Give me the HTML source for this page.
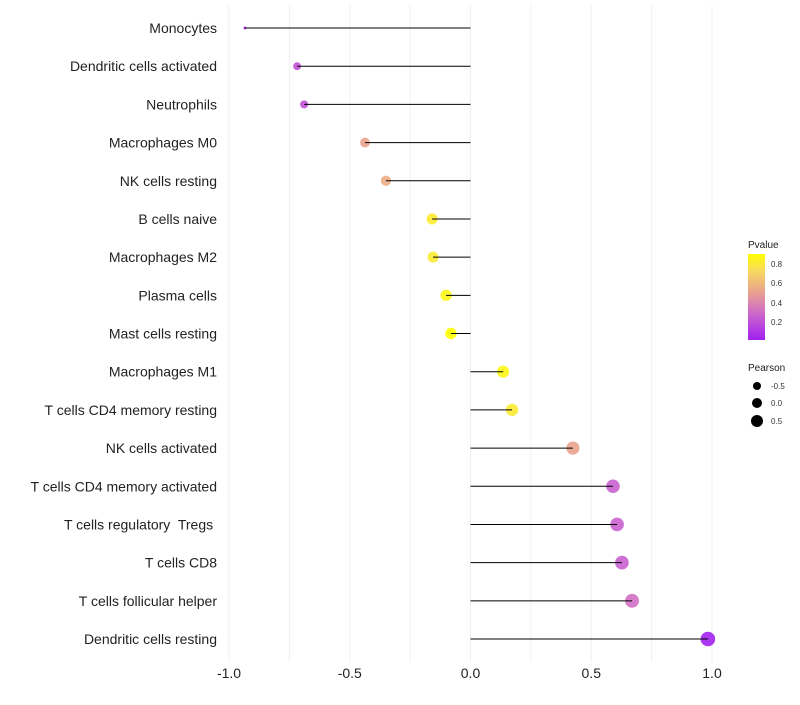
<!DOCTYPE html>
<html><head><meta charset="utf-8"><style>
body{margin:0;background:#fff;font-family:"Liberation Sans",sans-serif;}
text{white-space:pre;}
</style></head><body>
<svg id="chart" width="800" height="700" xmlns="http://www.w3.org/2000/svg">
<defs><linearGradient id="pg" x1="0" y1="1" x2="0" y2="0">
<stop offset="0" stop-color="#a020f0"/><stop offset="0.3" stop-color="#cc66cc"/><stop offset="0.55" stop-color="#e8a090"/><stop offset="0.8" stop-color="#f8d860"/><stop offset="1" stop-color="#ffff00"/></linearGradient></defs>
<g id="grid"></g><g id="marks"></g><g id="ylab"></g><g id="xlab"></g>
<g id="legend">
<text x="748" y="248" font-size="10" fill="#222">Pvalue</text>
<rect x="748" y="254" width="17" height="86" fill="url(#pg)"/>
<text x="771" y="267" font-size="8" fill="#333">0.8</text>
<text x="771" y="286" font-size="8" fill="#333">0.6</text>
<text x="771" y="306" font-size="8" fill="#333">0.4</text>
<text x="771" y="325" font-size="8" fill="#333">0.2</text>
<text x="748" y="371" font-size="10" fill="#222">Pearson</text>
<circle cx="757" cy="386" r="4" fill="#000"/>
<circle cx="757" cy="403" r="5" fill="#000"/>
<circle cx="757" cy="421" r="6" fill="#000"/>
<text x="771" y="389" font-size="8" fill="#333">-0.5</text>
<text x="771" y="406" font-size="8" fill="#333">0.0</text>
<text x="771" y="424" font-size="8" fill="#333">0.5</text>
</g>
</svg>
<script>
const categories=["Monocytes","Dendritic cells activated","Neutrophils","Macrophages M0","NK cells resting","B cells naive","Macrophages M2","Plasma cells","Mast cells resting","Macrophages M1","T cells CD4 memory resting","NK cells activated","T cells CD4 memory activated","T cells regulatory  Tregs ","T cells CD8","T cells follicular helper","Dendritic cells resting"];
const pearson=[-0.934,-0.718,-0.689,-0.437,-0.35,-0.159,-0.155,-0.101,-0.081,0.135,0.172,0.424,0.59,0.607,0.627,0.669,0.983];
const pvalues=[0.05,0.2,0.2,0.5,0.55,0.8,0.8,0.85,0.9,0.85,0.8,0.5,0.25,0.25,0.25,0.3,0.01];
const xTicks=[-1.0,-0.5,0.0,0.5,1.0];
const xTickLabels=["-1.0","-0.5","0.0","0.5","1.0"];
const NS="http://www.w3.org/2000/svg";
const x=v=>470.5+v*241.5;
const y=i=>28+i*(611/16);
const pmin=Math.min(...pearson),pmax=Math.max(...pearson);
const rad=v=>1.5+5.8*Math.pow((v-pmin)/(pmax-pmin||1),0.4);
const stops=[[0,[160,32,240]],[0.3,[204,102,204]],[0.55,[232,160,144]],[0.8,[248,216,96]],[1,[255,255,0]]];
function col(p){let t=(p-0.004)/(0.893-0.004);t=Math.max(0,Math.min(1,t));
for(let k=1;k<stops.length;k++){if(t<=stops[k][0]){const a=stops[k-1],b=stops[k],f=(t-a[0])/(b[0]-a[0]);
return "rgb("+a[1].map((c,j)=>Math.round(c+(b[1][j]-c)*f)).join(",")+")";}}return "rgb(255,255,0)";}
function mk(tag,attrs,parent){const e=document.createElementNS(NS,tag);for(const k in attrs)e.setAttribute(k,attrs[k]);parent.appendChild(e);return e;}
const grid=document.getElementById('grid'),marks=document.getElementById('marks'),yl=document.getElementById('ylab'),xl=document.getElementById('xlab');
for(let g=-1;g<=1.001;g+=0.25){const l=mk('line',{x1:x(g),x2:x(g),y1:5,y2:662,stroke:'#f0f0f0','stroke-width':1},grid);

}
categories.forEach((c,i)=>{
const cc=mk('circle',{cx:x(pearson[i]),cy:y(i),r:rad(pearson[i]),fill:col(pvalues[i]),'fill-opacity':0.9},marks);


const s=mk('line',{x1:x(0),x2:x(pearson[i]),y1:y(i),y2:y(i),stroke:'#000','stroke-width':1},marks);


const t=mk('text',{x:217,y:y(i)+5,'text-anchor':'end','font-size':14,fill:'#222'},yl);t.textContent=c;


});
xTicks.forEach((v,i)=>{const t=mk('text',{x:x(v),y:678,'text-anchor':'middle','font-size':14,fill:'#222'},xl);t.textContent=xTickLabels[i];

});
</script>
</body></html>
